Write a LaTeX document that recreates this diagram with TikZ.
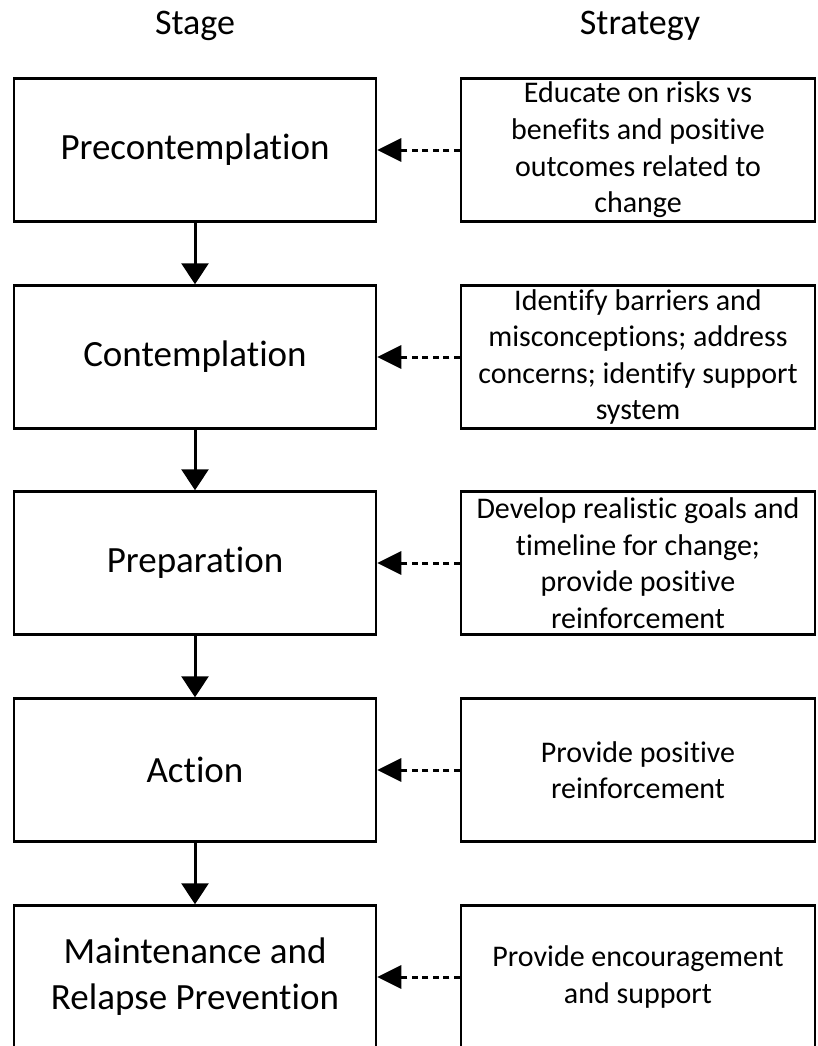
\documentclass[tikz,border=0pt]{standalone}
\usepackage{fontspec}
\setmainfont[Ligatures=NoCommon]{Carlito}
\usepackage{tikz}
\usetikzlibrary{arrows.meta}
\usetikzlibrary{positioning}

\begin{document}
\begin{tikzpicture}
    [
    x=1pt,y=-1pt,
    stagebox/.style={rectangle,draw,line width=2.5pt,minimum width=362pt,minimum height=143pt,
      align=center,inner sep=0pt,font=\fontsize{37}{46}\selectfont},
    stratbox/.style={rectangle,draw,line width=2.5pt,minimum width=354pt,minimum height=143pt,
      align=center,inner sep=0pt,font=\fontsize{30}{36.6}\selectfont},
    head/.style={anchor=base,inner sep=0pt,font=\fontsize{36}{46}\selectfont},
    down/.style={line width=3pt,-{Triangle[length=21pt,width=27pt]}},
    feed/.style={line width=3pt,dash pattern=on 6pt off 4.5pt,-{Triangle[length=24pt,width=23pt]}},
    ]
    \useasboundingbox (0,0) rectangle (817,1046);

    \node (hstage) at (195,35) [head] {Stage};
    \node (hstrat) at (640,35) [head] {Strategy};

    \node (stage1) at (195,150) [stagebox] {Precontemplation};
    \node (stage2) at (195,357) [stagebox] {Contemplation};
    \node (stage3) at (195,563) [stagebox] {Preparation};
    \node (stage4) at (195,770) [stagebox] {Action};
    \node (stage5) at (195,977) [stagebox] {Maintenance and\\Relapse Prevention};

    \node (strat1) at (638,150) [stratbox] {Educate on risks vs\\benefits and positive\\outcomes related to\\change};
    \node (strat2) at (638,357) [stratbox] {Identify barriers and\\misconceptions; address\\concerns; identify support\\system};
    \node (strat3) at (638,563) [stratbox] {Develop realistic goals and\\timeline for change;\\provide positive\\reinforcement};
    \node (strat4) at (638,770) [stratbox] {Provide positive\\reinforcement};
    \node (strat5) at (638,977) [stratbox] {Provide encouragement\\and support};

    \draw [down] (stage1) to (stage2);
    \draw [down] (stage2) to (stage3);
    \draw [down] (stage3) to (stage4);
    \draw [down] (stage4) to (stage5);

    \draw [feed] (strat1) to (stage1);
    \draw [feed] (strat2) to (stage2);
    \draw [feed] (strat3) to (stage3);
    \draw [feed] (strat4) to (stage4);
    \draw [feed] (strat5) to (stage5);
  \end{tikzpicture}
\end{document}
